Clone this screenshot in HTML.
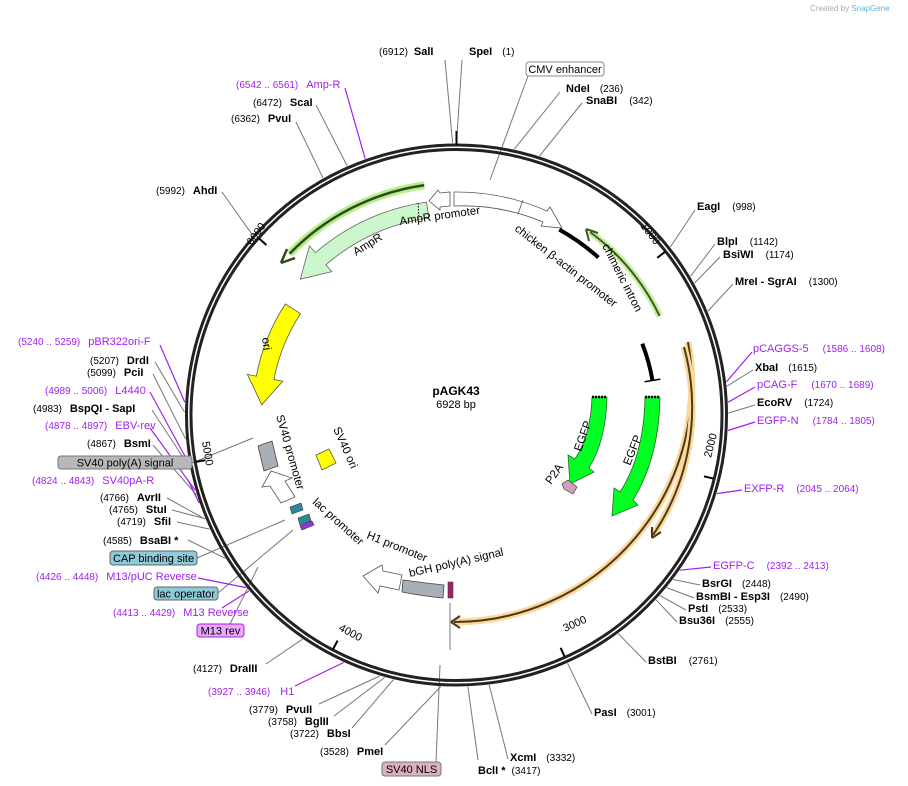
<!DOCTYPE html>
<html><head><meta charset="utf-8"><style>
html,body{margin:0;padding:0;background:#fff;}
svg{display:block;font-family:"Liberation Sans","DejaVu Sans",sans-serif;}
.n{font-size:10px;fill:#000;}
.b{font-size:11px;font-weight:bold;fill:#000;}
.p{font-size:11px;fill:#a020f0;}
.pn{font-size:10px;fill:#a020f0;}
.f{font-size:11.5px;fill:#000;}
.g{stroke:#777;stroke-width:1;fill:none;}
.pl{stroke:#a020f0;stroke-width:1.2;fill:none;}
</style></head><body>
<svg width="908" height="786" viewBox="0 0 908 786" xmlns="http://www.w3.org/2000/svg">
<text x="810" y="11" font-size="8" fill="#aaa">Created by <tspan fill="#6ab0d8">SnapGene</tspan></text>

<g class="g">
<line x1="445" y1="60" x2="452.6" y2="143"/>
<line x1="462" y1="60" x2="456.5" y2="143"/>
<line x1="528" y1="76" x2="490" y2="180"/>
<line x1="560" y1="92" x2="514.3" y2="149.2"/>
<line x1="582" y1="103" x2="539.5" y2="156"/>
<line x1="695" y1="210" x2="670.4" y2="247"/>
<line x1="715" y1="244" x2="690.5" y2="276.3"/>
<line x1="720" y1="257" x2="694.4" y2="283.1"/>
<line x1="733" y1="284" x2="707.9" y2="311.1"/>
<line x1="753" y1="370" x2="727" y2="386.2"/>
<line x1="755" y1="405" x2="728.5" y2="413"/>
<line x1="700" y1="585" x2="673.1" y2="579.5"/>
<line x1="694" y1="598" x2="666.7" y2="587.6"/>
<line x1="686" y1="610" x2="659.9" y2="595.6"/>
<line x1="677" y1="622" x2="656" y2="599.8"/>
<line x1="646" y1="662" x2="618.3" y2="633.7"/>
<line x1="592" y1="714" x2="567.6" y2="663.3"/>
<line x1="508" y1="759" x2="489.2" y2="685"/>
<line x1="478" y1="760" x2="467.9" y2="686.8"/>
<line x1="436" y1="762" x2="440" y2="665"/>
<line x1="450" y1="603" x2="450" y2="650"/>
<line x1="385" y1="745" x2="440.8" y2="686.5"/>
<line x1="352" y1="728" x2="393.5" y2="679.6"/>
<line x1="334" y1="716" x2="384.7" y2="677.4"/>
<line x1="319" y1="704" x2="379.7" y2="676"/>
<line x1="266" y1="664" x2="302.4" y2="639.2"/>
<line x1="230" y1="624" x2="258" y2="567"/>
<line x1="197" y1="558" x2="285" y2="520"/>
<line x1="218" y1="593" x2="293" y2="530"/>
<line x1="188" y1="540" x2="225.3" y2="558.3"/>
<line x1="177" y1="522" x2="209.6" y2="529.1"/>
<line x1="172" y1="510" x2="205" y2="518.6"/>
<line x1="167" y1="498" x2="204.8" y2="518.9"/>
<line x1="192" y1="463" x2="253" y2="438"/>
<line x1="153" y1="445" x2="196.5" y2="495"/>
<line x1="152" y1="410" x2="189.6" y2="467.4"/>
<line x1="153" y1="374" x2="185.6" y2="438.9"/>
<line x1="155" y1="362" x2="184.5" y2="412.1"/>
<line x1="222" y1="192" x2="252.5" y2="235.1"/>
<line x1="296" y1="122" x2="323" y2="178"/>
<line x1="316" y1="105" x2="347.2" y2="166"/>
</g>
<g class="pl">
<line x1="752" y1="352" x2="726.5" y2="381.8"/>
<line x1="755" y1="387" x2="728.2" y2="402.2"/>
<line x1="755" y1="422" x2="728" y2="430.5"/>
<line x1="742" y1="490" x2="717" y2="493.6"/>
<line x1="711" y1="567" x2="679.8" y2="570.2"/>
<line x1="295" y1="686" x2="343.7" y2="662.5"/>
<line x1="222" y1="608" x2="249" y2="591"/>
<line x1="198" y1="578" x2="246.3" y2="587.6"/>
<line x1="188" y1="480" x2="199.2" y2="503.1"/>
<line x1="150" y1="428" x2="195.1" y2="490.2"/>
<line x1="150" y1="392" x2="189" y2="463.6"/>
<line x1="160" y1="345" x2="184.8" y2="402.2"/>
<line x1="345" y1="88" x2="365.2" y2="158.8"/>
</g>

<circle cx="456.5" cy="415" r="270" fill="none" stroke="#222" stroke-width="3"/>
<circle cx="456.5" cy="415" r="265.5" fill="none" stroke="#222" stroke-width="3"/>
<g stroke="#000" stroke-width="2">
<line x1="456.5" y1="131" x2="456.5" y2="145"/>
<line x1="665.2" y1="251.7" x2="657.3" y2="257.8"/>
<line x1="713.7" y1="478.7" x2="704" y2="476.3"/>
<line x1="564.7" y1="656.9" x2="560.6" y2="647.8"/>
<line x1="332.9" y1="649.4" x2="337.6" y2="640.6"/>
<line x1="195.7" y1="461.9" x2="205.5" y2="460.2"/>
<line x1="259" y1="238.4" x2="266.4" y2="245"/>
</g>
<g font-size="11" fill="#000">
<text transform="translate(640,226) rotate(52)">1000</text>
<text transform="translate(711,458) rotate(-76)">2000</text>
<text transform="translate(565,632) rotate(-24)">3000</text>
<text transform="translate(338,630) rotate(28)">4000</text>
<text transform="translate(202,442) rotate(80)">5000</text>
<text transform="translate(252,246) rotate(-55)">6000</text>
</g>

<path d="M424.2 185.3 A232 232 0 0 0 289.6 253.8" fill="none" stroke="#b6ef8a" stroke-width="8"/>
<path d="M424.2 185.3 A232 232 0 0 0 289.6 253.8" fill="none" stroke="#2f4a1f" stroke-width="2.5"/>
<path d="M281 263 L287 249 M281 263 L295 258" stroke="#2f4a1f" stroke-width="2.5"/>
<path d="M426.6 202.1 A215 215 0 0 0 315.4 252.7 L309.5 245.9 L300.3 279.2 L331.8 271.6 L325.9 264.8 A199 199 0 0 1 428.8 217.9 Z" fill="#ccf7cc" stroke="#666" stroke-width="0.8"/>
<line x1="418" y1="203" x2="419" y2="218" stroke="#000" stroke-dasharray="1.5,1.5"/>
<path d="M450 192 L450 206 L440 207 L440 210 L429 201 L438 190 L440 193 Z" fill="#fff" stroke="#555" stroke-width="0.8"/>
<!-- ori -->
<path d="M285.4 303.9 A204 204 0 0 0 256.3 376.1 L247.4 374.4 L261.8 404.8 L282.8 381.2 L273.9 379.5 A186 186 0 0 1 300.5 313.7 Z" fill="#ffff00" stroke="#555" stroke-width="0.8"/>
<path d="M454 192 A223 223 0 0 1 547 211 L550 207 L562 228 L541 226 L543 222 A209 209 0 0 0 454 206 Z" fill="#fff" stroke="#555" stroke-width="0.8"/>
<line x1="523" y1="200" x2="518" y2="214" stroke="#555" stroke-width="0.8"/>
<path d="M559.3 229.6 A212 212 0 0 1 598.4 257.5" fill="none" stroke="#000" stroke-width="4"/>
<path d="M659.6 315.9 A226 226 0 0 0 590 232" fill="none" stroke="#c9f0a0" stroke-width="7"/>
<path d="M659.6 315.9 A226 226 0 0 0 590 232" fill="none" stroke="#3a5a22" stroke-width="2"/>
<path d="M586 229 L598 233 M586 229 L589 241" stroke="#3a5a22" stroke-width="2"/>
<path d="M642.3 343.7 A199 199 0 0 1 652.5 380.5" fill="none" stroke="#000" stroke-width="4"/>
<line x1="644.6" y1="381.8" x2="660.4" y2="379.1" stroke="#000" stroke-width="1.5"/>
<path d="M688 342 A238 238 0 0 1 454 622" fill="none" stroke="#fcd79a" stroke-width="7"/>
<path d="M688 342 A238 238 0 0 1 454 622" fill="none" stroke="#4a3a1a" stroke-width="2"/>
<path d="M451 622 L460 616 M451 622 L460 628" stroke="#4a3a1a" stroke-width="2"/>
<path d="M684 347 A228 228 0 0 1 653 535" fill="none" stroke="#fcd79a" stroke-width="7"/>
<path d="M684 347 A228 228 0 0 1 653 535" fill="none" stroke="#4a3a1a" stroke-width="2"/>
<path d="M652 538 L652 527 M652 538 L661 532" stroke="#4a3a1a" stroke-width="2"/>
<path d="M592 397 L607 397 Q606 440 589 468 L594 472 L570 484 L568 455 L575 459 Q591 434 592 397 Z" fill="#00ff22" stroke="#2a6a2a" stroke-width="0.8"/>
<line x1="592" y1="397" x2="607" y2="397" stroke="#000" stroke-width="2.5" stroke-dasharray="2,1"/>
<path d="M645 397 L660 397 Q659 458 633 500 L638 505 L612 516 L614 488 L620 492 Q644 455 645 397 Z" fill="#00ff22" stroke="#2a6a2a" stroke-width="0.8"/>
<line x1="645" y1="397" x2="660" y2="397" stroke="#000" stroke-width="2.5" stroke-dasharray="2,1"/>
<path d="M562 484 L568 480 L577 487 L573 494 L564 489 Z" fill="#d49fb8" stroke="#555" stroke-width="0.8"/>
<path d="M403 580 Q424 583 444 585 L443 598 Q422 596 402 592 Z" fill="#a9afb6" stroke="#444" stroke-width="0.8"/>
<rect x="448" y="582" width="5" height="16" fill="#a02060" stroke="#444" stroke-width="0.6"/>
<path d="M363 576 L382 565 L383 571 L402 575 L399 590 L380 586 L378 593 Z" fill="#fff" stroke="#555" stroke-width="0.8"/>
<path d="M290 507 L301 503 L303 510 L292 514 Z" fill="#2b8a9a" stroke="#333" stroke-width="0.6"/>
<path d="M298 518 L309 514 L311 521 L300 525 Z" fill="#2b8a9a" stroke="#333" stroke-width="0.6"/>
<path d="M300 526 L312 521 L314 525 L302 530 Z" fill="#9b30e0" stroke="#333" stroke-width="0.6"/>
<path d="M258 446 L272 441 L278 466 L264 471 Z" fill="#a9afb6" stroke="#444" stroke-width="0.8"/>
<path d="M271 471 L262 487 L270 486 L281 503 L295 497 L285 481 L292 478 Z" fill="#fff" stroke="#555" stroke-width="0.8"/>
<path d="M316 455 L329 449 L336 463 L322 470 Z" fill="#ffff00" stroke="#555" stroke-width="0.8"/>

<g class="f">
<text transform="translate(400,225) rotate(-8)">AmpR promoter</text>
<text transform="translate(356,256) rotate(-32)">AmpR</text>
<text transform="translate(514,230) rotate(38)">chicken β-actin promoter</text>
<text transform="translate(602,246) rotate(63)">chimeric intron</text>
<text transform="translate(262,338) rotate(82)">ori</text>
<text transform="translate(276,416) rotate(74)">SV40 promoter</text>
<text transform="translate(333,429) rotate(66)">SV40 ori</text>
<text transform="translate(312,503) rotate(42)">lac promoter</text>
<text transform="translate(366,538) rotate(22)">H1 promoter</text>
<text transform="translate(410,577) rotate(-13)">bGH poly(A) signal</text>
<text transform="translate(581,452) rotate(-70)">EGFP</text>
<text transform="translate(630,466) rotate(-68)">EGFP</text>
<text transform="translate(551,485) rotate(-55)">P2A</text>
</g>
<text x="456" y="395" text-anchor="middle" font-size="12" font-weight="bold">pAGK43</text>
<text x="456" y="408" text-anchor="middle" font-size="11">6928 bp</text>

<rect x="526" y="62" width="78" height="14" rx="3" fill="#fff" stroke="#888"/>
<text x="565" y="73" text-anchor="middle" font-size="11">CMV enhancer</text>
<rect x="58" y="456" width="134" height="13" rx="3" fill="#b8b8b8" stroke="#777"/>
<text x="125" y="466.5" text-anchor="middle" font-size="11">SV40 poly(A) signal</text>
<rect x="110" y="551" width="87" height="14" rx="3" fill="#8ecad8" stroke="#666"/>
<text x="153.5" y="562" text-anchor="middle" font-size="11">CAP binding site</text>
<rect x="154" y="587" width="64" height="13" rx="3" fill="#8ecad8" stroke="#666"/>
<text x="186" y="597.5" text-anchor="middle" font-size="11">lac operator</text>
<rect x="197" y="624" width="47" height="13" rx="3" fill="#eba8f8" stroke="#a020f0"/>
<text x="220.5" y="634.5" text-anchor="middle" font-size="11">M13 rev</text>
<rect x="382" y="762" width="59" height="14" rx="3" fill="#dcb0c2" stroke="#777"/>
<text x="411.5" y="773" text-anchor="middle" font-size="11">SV40 NLS</text>

<text x="469" y="55"><tspan class="b">SpeI</tspan><tspan class="n" dx="10">(1)</tspan></text>
<text x="379" y="55"><tspan class="n">(6912)</tspan><tspan class="b" dx="6">SalI</tspan></text>
<text x="566" y="92"><tspan class="b">NdeI</tspan><tspan class="n" dx="10">(236)</tspan></text>
<text x="586" y="104"><tspan class="b">SnaBI</tspan><tspan class="n" dx="12">(342)</tspan></text>
<text x="697" y="210"><tspan class="b">EagI</tspan><tspan class="n" dx="12">(998)</tspan></text>
<text x="717" y="245"><tspan class="b">BlpI</tspan><tspan class="n" dx="12">(1142)</tspan></text>
<text x="723" y="258"><tspan class="b">BsiWI</tspan><tspan class="n" dx="12">(1174)</tspan></text>
<text x="735" y="285"><tspan class="b">MreI  - SgrAI</tspan><tspan class="n" dx="12">(1300)</tspan></text>
<text x="753" y="352"><tspan class="p">pCAGGS-5</tspan><tspan class="pn" dx="14">(1586 .. 1608)</tspan></text>
<text x="755" y="371"><tspan class="b">XbaI</tspan><tspan class="n" dx="10">(1615)</tspan></text>
<text x="757" y="388"><tspan class="p">pCAG-F</tspan><tspan class="pn" dx="14">(1670 .. 1689)</tspan></text>
<text x="757" y="406"><tspan class="b">EcoRV</tspan><tspan class="n" dx="12">(1724)</tspan></text>
<text x="757" y="424"><tspan class="p">EGFP-N</tspan><tspan class="pn" dx="14">(1784 .. 1805)</tspan></text>
<text x="744" y="492"><tspan class="p">EXFP-R</tspan><tspan class="pn" dx="12">(2045 .. 2064)</tspan></text>
<text x="713" y="569"><tspan class="p">EGFP-C</tspan><tspan class="pn" dx="12">(2392 .. 2413)</tspan></text>
<text x="702" y="587"><tspan class="b">BsrGI</tspan><tspan class="n" dx="10">(2448)</tspan></text>
<text x="696" y="600"><tspan class="b">BsmBI  - Esp3I</tspan><tspan class="n" dx="10">(2490)</tspan></text>
<text x="688" y="612"><tspan class="b">PstI</tspan><tspan class="n" dx="10">(2533)</tspan></text>
<text x="679" y="624"><tspan class="b">Bsu36I</tspan><tspan class="n" dx="10">(2555)</tspan></text>
<text x="648" y="664"><tspan class="b">BstBI</tspan><tspan class="n" dx="12">(2761)</tspan></text>
<text x="594" y="716"><tspan class="b">PasI</tspan><tspan class="n" dx="10">(3001)</tspan></text>
<text x="510" y="761"><tspan class="b">XcmI</tspan><tspan class="n" dx="10">(3332)</tspan></text>
<text x="478" y="774"><tspan class="b">BclI *</tspan><tspan class="n" dx="6">(3417)</tspan></text>

<text x="320" y="755"><tspan class="n">(3528)</tspan><tspan class="b" dx="8">PmeI</tspan></text>
<text x="290" y="737"><tspan class="n">(3722)</tspan><tspan class="b" dx="8">BbsI</tspan></text>
<text x="268" y="725"><tspan class="n">(3758)</tspan><tspan class="b" dx="8">BglII</tspan></text>
<text x="249" y="713"><tspan class="n">(3779)</tspan><tspan class="b" dx="8">PvuII</tspan></text>
<text x="208" y="695"><tspan class="pn">(3927 .. 3946)</tspan><tspan class="p" dx="10">H1</tspan></text>
<text x="193" y="672"><tspan class="n">(4127)</tspan><tspan class="b" dx="8">DraIII</tspan></text>
<text x="113" y="616"><tspan class="pn">(4413 .. 4429)</tspan><tspan class="p" dx="8">M13 Reverse</tspan></text>
<text x="36" y="580"><tspan class="pn">(4426 .. 4448)</tspan><tspan class="p" dx="8">M13/pUC Reverse</tspan></text>
<text x="103" y="544"><tspan class="n">(4585)</tspan><tspan class="b" dx="8">BsaBI *</tspan></text>
<text x="117" y="525"><tspan class="n">(4719)</tspan><tspan class="b" dx="8">SfiI</tspan></text>
<text x="109" y="513"><tspan class="n">(4765)</tspan><tspan class="b" dx="8">StuI</tspan></text>
<text x="100" y="501"><tspan class="n">(4766)</tspan><tspan class="b" dx="8">AvrII</tspan></text>
<text x="32" y="484"><tspan class="pn">(4824 .. 4843)</tspan><tspan class="p" dx="8">SV40pA-R</tspan></text>
<text x="87" y="447"><tspan class="n">(4867)</tspan><tspan class="b" dx="8">BsmI</tspan></text>
<text x="45" y="429"><tspan class="pn">(4878 .. 4897)</tspan><tspan class="p" dx="8">EBV-rev</tspan></text>
<text x="33" y="412"><tspan class="n">(4983)</tspan><tspan class="b" dx="8">BspQI  - SapI</tspan></text>
<text x="45" y="394"><tspan class="pn">(4989 .. 5006)</tspan><tspan class="p" dx="8">L4440</tspan></text>
<text x="87" y="376"><tspan class="n">(5099)</tspan><tspan class="b" dx="8">PciI</tspan></text>
<text x="90" y="364"><tspan class="n">(5207)</tspan><tspan class="b" dx="8">DrdI</tspan></text>
<text x="18" y="345"><tspan class="pn">(5240 .. 5259)</tspan><tspan class="p" dx="8">pBR322ori-F</tspan></text>
<text x="156" y="194"><tspan class="n">(5992)</tspan><tspan class="b" dx="8">AhdI</tspan></text>
<text x="231" y="122"><tspan class="n">(6362)</tspan><tspan class="b" dx="8">PvuI</tspan></text>
<text x="253" y="106"><tspan class="n">(6472)</tspan><tspan class="b" dx="8">ScaI</tspan></text>
<text x="236" y="88"><tspan class="pn">(6542 .. 6561)</tspan><tspan class="p" dx="8">Amp-R</tspan></text>
</svg>
</body></html>
